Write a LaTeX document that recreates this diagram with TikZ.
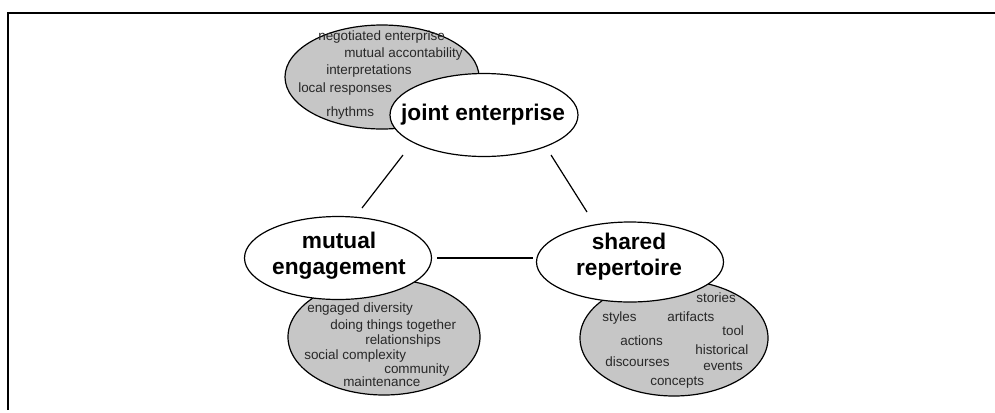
\documentclass[tikz,border=0pt]{standalone}
\usepackage{fontspec}
\setmainfont{Liberation Sans}
\usetikzlibrary{shapes.geometric}
\definecolor{ellgray}{RGB}{198,198,198}
\definecolor{smalltext}{RGB}{40,40,40}
\tikzset{
  frameline/.style={line width=1.6pt},
  grayell/.style={ellipse, draw=black, line width=0.9pt, fill=ellgray, inner sep=0pt},
  whiteell/.style={ellipse, draw=black, line width=0.9pt, fill=white, inner sep=0pt},
  bigtext/.style={font=\fontsize{17}{19.5}\selectfont\bfseries, align=center, inner sep=0pt},
  smalltxt/.style={font=\fontsize{10.1}{12}\selectfont, text=smalltext, anchor=mid west, inner sep=0pt},
  link/.style={line width=0.9pt}
}
\begin{document}
\begin{tikzpicture}[x=0.75pt,y=-0.75pt]
\useasboundingbox (0,0) rectangle (995,412);
% frame
\coordinate (fbl) at (8,410);
\coordinate (ftl) at (8,13);
\coordinate (ftr) at (995,13);
\draw[frameline] (fbl) -- (ftl) -- (ftr);

% gray ellipses
\node[grayell, minimum width=145.5pt, minimum height=78pt] (gje) at (382,77) {};
\node[grayell, minimum width=144pt, minimum height=87pt] (gme) at (384,337) {};
\node[grayell, minimum width=141pt, minimum height=87pt] (gsr) at (674,338) {};

% white ellipses
\node[whiteell, minimum width=141pt, minimum height=62.25pt] (je) at (484,115) {};
\node[whiteell, minimum width=140.25pt, minimum height=62.25pt] (me) at (338,258) {};
\node[whiteell, minimum width=140.25pt, minimum height=60pt] (sr) at (630,262) {};

\node[bigtext] (jet) at (483,115) {joint enterprise};
\node[bigtext] (met) at (339,256) {mutual\\engagement};
\node[bigtext] (srt) at (629,257) {shared\\repertoire};

% connectors
\coordinate (l1a) at (403,155);
\coordinate (l1b) at (362,208);
\coordinate (l2a) at (551,155);
\coordinate (l2b) at (587,212);
\coordinate (l3a) at (437,258);
\coordinate (l3b) at (533,258);
\draw[link] (l1a) -- (l1b);
\draw[link] (l2a) -- (l2b);
\draw[link] (l3a) -- (l3b);

% joint enterprise items
\node[smalltxt] (t1) at (318,37) {negotiated enterprise};
\node[smalltxt] (t2) at (344,54) {mutual accontability};
\node[smalltxt] (t3) at (326,71) {interpretations};
\node[smalltxt] (t4) at (298,89) {local responses};
\node[smalltxt] (t5) at (326,113) {rhythms};

% mutual engagement items
\node[smalltxt] (m1) at (307,309) {engaged diversity};
\node[smalltxt] (m2) at (330,326) {doing things together};
\node[smalltxt] (m3) at (365,341) {relationships};
\node[smalltxt] (m4) at (304,356) {social complexity};
\node[smalltxt] (m5) at (384,370) {community};
\node[smalltxt] (m6) at (343,383) {maintenance};

% shared repertoire items
\node[smalltxt] (s1) at (696,299) {stories};
\node[smalltxt] (s2) at (602,318) {styles};
\node[smalltxt] (s3) at (667,318) {artifacts};
\node[smalltxt] (s4) at (722,332) {tool};
\node[smalltxt] (s5) at (620,342) {actions};
\node[smalltxt] (s6) at (695,351) {historical};
\node[smalltxt] (s7) at (605,363) {discourses};
\node[smalltxt] (s8) at (703,367) {events};
\node[smalltxt] (s9) at (650,382) {concepts};
\end{tikzpicture}
\end{document}
